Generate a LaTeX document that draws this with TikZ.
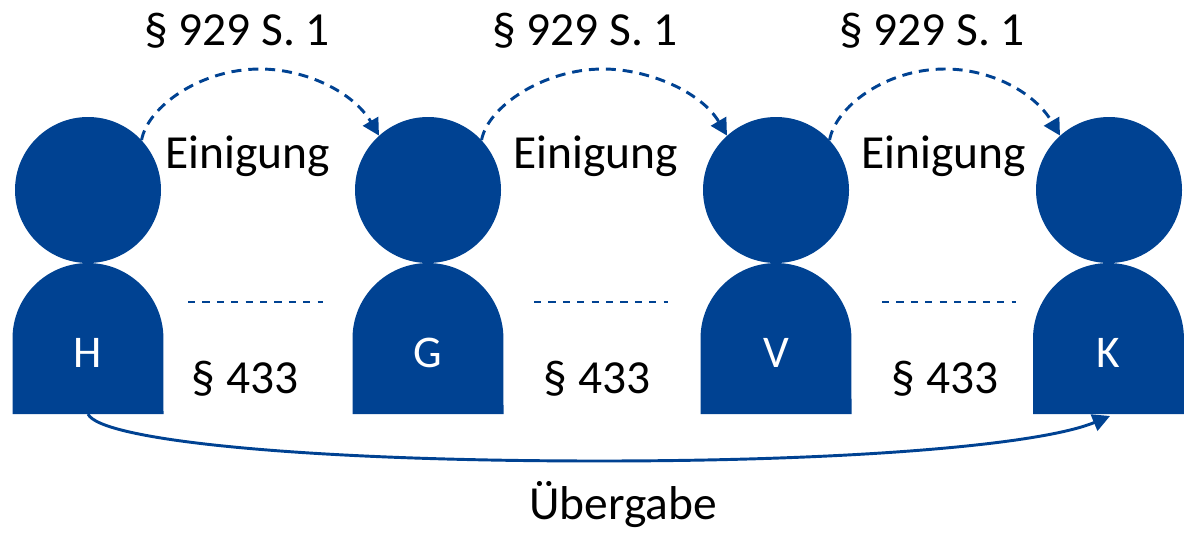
\documentclass[tikz,border=0pt]{standalone}
\usepackage{fontspec}
\setmainfont{Carlito}
\usetikzlibrary{arrows.meta}
\definecolor{navy}{HTML}{004292}
\tikzset{
  head/.style={circle,fill=navy,inner sep=0pt,minimum size=109.5pt},
  bodyshape/.style={fill=navy},
  letter/.style={text=white,anchor=base,inner sep=0pt,font=\fontsize{34}{40}\selectfont},
  lbl/.style={text=black,anchor=base,inner sep=0pt,font=\fontsize{35.6}{42}\selectfont},
  deal/.style={navy,line width=2.2pt,dash pattern=on 7.5pt off 5.2pt,-{Triangle[length=12.5pt,width=13pt]}},
  duty/.style={navy,line width=2pt,dash pattern=on 5.4pt off 5.4pt},
  handover/.style={navy,line width=2.2pt,-{Triangle[length=13pt,width=13pt]}}
}
\newcommand{\person}[4]{% name, centre x head, centre x body, letter
  \node[head] (c#1) at (#2,190) {};
  \fill[bodyshape] (#3-75.5,414) -- (#3-75.5,338.5) arc[start angle=180,end angle=0,radius=56.6pt] -- (#3+75.5,414) -- cycle;
  \node[letter] (t#1) at (#3,367) {#4};
  \coordinate (f#1) at (#3,414);
}
\begin{document}
\begin{tikzpicture}[x=0.75pt,y=-0.75pt]
\useasboundingbox (0,0) rectangle (1184,532);
\person{H}{88}{88}{H}
\person{G}{428}{428}{G}
\person{V}{776}{776}{V}
\person{K}{1109}{1108.5}{K}
\coordinate (p1) at (260,69);
\coordinate (p2) at (603,69);
\coordinate (p3) at (945,69);
\coordinate (kend) at (1110,416);
\coordinate (low) at (600,461);
\draw[deal] (cH.43) .. controls +(6,-33) and +(-60,0) .. (p1) .. controls +(45,0) and +(-26,-44) .. (cG.132);
\draw[deal] (cG.43) .. controls +(6,-33) and +(-60,0) .. (p2) .. controls +(45,0) and +(-26,-44) .. (cV.132);
\draw[deal] (cV.43) .. controls +(6,-33) and +(-60,0) .. (p3) .. controls +(45,0) and +(-26,-44) .. (cK.132);
\coordinate (d1a) at (188,302); \coordinate (d1b) at (323,302);
\coordinate (d2a) at (534,302); \coordinate (d2b) at (668,302);
\coordinate (d3a) at (882,302); \coordinate (d3b) at (1016,302);
\draw[duty] (d1a) -- (d1b);
\draw[duty] (d2a) -- (d2b);
\draw[duty] (d3a) -- (d3b);
\draw[handover] (fH) .. controls +(12,26) and +(-300,0) .. (low) .. controls +(250,0) and +(-70,29) .. (kend);
\node[lbl] (a1) at (237,45) {§ 929 S. 1};
\node[lbl] (a2) at (585,45) {§ 929 S. 1};
\node[lbl] (a3) at (932,45) {§ 929 S. 1};
\node[lbl] (e1) at (248,168) {Einigung};
\node[lbl] (e2) at (596,168) {Einigung};
\node[lbl] (e3) at (944,168) {Einigung};
\node[lbl] (s1) at (245,393) {§ 433};
\node[lbl] (s2) at (597,393) {§ 433};
\node[lbl] (s3) at (945,393) {§ 433};
\node[lbl] (u) at (623,519) {Übergabe};
\end{tikzpicture}
\end{document}
